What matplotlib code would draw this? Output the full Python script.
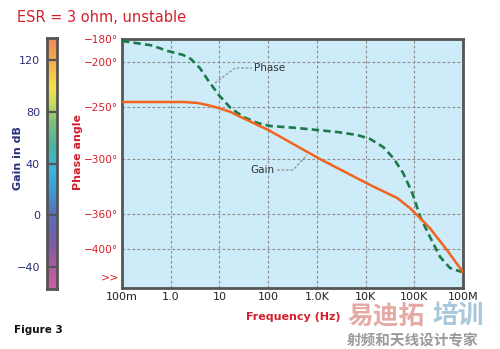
import numpy as np
import matplotlib
matplotlib.use("Agg")
import matplotlib.pyplot as plt
from matplotlib.colors import LinearSegmentedColormap

plt.rcParams['font.family'] = ['DejaVu Sans', 'Noto Sans CJK SC']

# ---- data ----
freq_ticks = [0.1, 1, 10, 100, 1e3, 1e4, 1e5, 1e6]
freq_labels = ["100m", "1.0", "10", "100", "1.0K", "10K", "100K", "100M"]

phase_ticks = [-180, -200, -250, -300, -360, -400]
phase_labels = ["\u2212180\u00b0", "\u2212200\u00b0", "\u2212250\u00b0", "\u2212300\u00b0",
                "\u2212360\u00b0", "\u2212400\u00b0"]
gain_ticks = [120, 80, 40, 0, -40]

phase_freq = [0.1, 0.4, 0.87, 1.8, 2.6, 4.0, 5.8, 9.7, 17, 31, 61, 112, 400, 1000,
              2600, 6700, 12500, 23000, 37000, 59000, 91000, 133000, 210000,
              340000, 540000, 950000]
phase_deg = [-181.7, -185.5, -190.4, -193.9, -197.4, -207, -220, -236.7, -251,
             -259.6, -265.4, -268.3, -270.2, -272.1, -274.0, -276.9, -280.8,
             -288.5, -299, -315.3, -337.1, -363.4, -386.3, -408.2, -419.5, -423.6]

gain_freq = [0.1, 1.0, 1.86, 3.5, 5.8, 9.7, 17, 30, 102, 1070, 11500, 45000, 82000,
             132000, 210000, 470000, 1e6]
gain_db = [87.9, 87.9, 87.9, 87.2, 85.5, 83.2, 80.1, 75.5, 66.0, 44.2, 23.9, 13.0,
           5.2, -2.6, -10.4, -27.5, -44.6]

# phase axis spacing (degrees -> drawn height)
scale_deg = [-440, -400, -360, -300, -250, -200, -180]
scale_pos = [0, 39, 74, 129, 181, 226, 249]

def fwd(v):
    return np.interp(v, scale_deg, scale_pos, left=None, right=None)

def inv(v):
    return np.interp(v, scale_pos, scale_deg)

red = "#d4202c"
navy = "#2a2f7a"
bg = "#cdebf9"

fig = plt.figure(figsize=(5.0, 3.49), dpi=100)
W, H = 500, 349

def rect(x0, y0, x1, y1):
    return [x0 / W, 1 - y1 / H, (x1 - x0) / W, (y1 - y0) / H]

def fx(px):
    # horizontal position inside the plot -> frequency
    return 0.1 * 10 ** ((px - 122) / 48.7)

ax = fig.add_axes(rect(122, 39, 463, 288))
ax.set_facecolor(bg)
ax.set_xscale("log")
ax.set_xlim(0.1, 1e6)
ax.set_yscale("function", functions=(fwd, inv))
ax.set_ylim(-440, -180)
ax.set_xticks(freq_ticks)
ax.set_xticklabels(freq_labels, fontsize=8, color="#222222")
ax.xaxis.set_minor_locator(matplotlib.ticker.NullLocator())
ax.set_yticks(phase_ticks)
ax.set_yticklabels(phase_labels, fontsize=7.6, color=red)
ax.yaxis.set_minor_locator(matplotlib.ticker.NullLocator())
ax.tick_params(length=0, pad=3)
ax.grid(True, color="#8a8a8a", linestyle=(0, (2.5, 2)), linewidth=0.8)
for s in ax.spines.values():
    s.set_color("#555555")
    s.set_linewidth(2)

ax.plot(phase_freq, phase_deg, color="#1b7a48", linewidth=1.9,
        linestyle=(0, (2.8, 1.6)), zorder=3)

axg = ax.twinx()
axg.set_ylim(-57, 137)
axg.set_yticks([])
for s in axg.spines.values():
    s.set_visible(False)
axg.plot(gain_freq, gain_db, color="#f2641e", linewidth=1.8, zorder=3)

# leader lines and labels
ax.plot([fx(215), fx(235), fx(252)],
        [inv(288 - 83), inv(288 - 68), inv(288 - 68)],
        color="#8a8a8a", linewidth=0.8, linestyle=(0, (2.5, 1.5)))
ax.text(fx(254), inv(288 - 68), "Phase", fontsize=7.5,
        va="center", ha="left", color="#333333")
ax.plot([fx(277), fx(293), fx(307)],
        [inv(288 - 170), inv(288 - 170), inv(288 - 155)],
        color="#8a8a8a", linewidth=0.8, linestyle=(0, (2.5, 1.5)))
ax.text(fx(274), inv(288 - 170), "Gain", fontsize=7.5,
        va="center", ha="right", color="#333333")

# gain color bar
cax = fig.add_axes(rect(47, 38, 57, 289))
cmap = LinearSegmentedColormap.from_list("gain", [
    (0.0, "#d060a0"), (0.09, "#b05aa0"), (0.18, "#7a5aa8"), (0.30, "#5a70bc"),
    (0.40, "#3aa0dc"), (0.48, "#38b8e0"), (0.56, "#45b4a8"), (0.66, "#78c07c"),
    (0.74, "#c8dc5c"), (0.80, "#f4e44a"), (0.90, "#f6b04a"), (1.0, "#f08858")])
grad = np.linspace(0, 1, 256).reshape(-1, 1)
cax.imshow(grad, aspect="auto", cmap=cmap, origin="lower", extent=[0, 1, -57, 137])
cax.set_xlim(0, 1)
cax.set_ylim(-57, 137)
cax.set_xticks([])
cax.set_yticks(gain_ticks)
cax.set_yticklabels([str(v).replace("-", "\u2212") for v in gain_ticks],
                    fontsize=8, color=navy)
cax.tick_params(length=0, pad=5)
for v in gain_ticks:
    cax.axhline(v, color="#555555", linewidth=1.6)
for s in cax.spines.values():
    s.set_color("#555555")
    s.set_linewidth(2)

# titles and labels
fig.text(17 / W, 1 - 18 / H, "ESR = 3 ohm, unstable", fontsize=10.5, color=red,
         ha="left", va="center")
fig.text(18 / W, 1 - 158 / H, "Gain in dB", fontsize=8, color=navy,
         fontweight="bold", rotation=90, ha="center", va="center")
fig.text(78 / W, 1 - 152 / H, "Phase angle", fontsize=8, color=red,
         fontweight="bold", rotation=90, ha="center", va="center")
fig.text(110 / W, 1 - 277 / H, ">>", fontsize=8, color=red, ha="center", va="center")
fig.text(293 / W, 1 - 317 / H, "Frequency (Hz)", fontsize=8, color=red,
         fontweight="bold", ha="center", va="center")
fig.text(14 / W, 1 - 330 / H, "Figure 3", fontsize=7.5, color="#111111",
         fontweight="bold", ha="left", va="center")

# watermark
fig.text(347 / W, 1 - 316 / H, "易迪拓", fontsize=18.5, color="#e6aaa4",
         fontweight="bold", ha="left", va="center", family=["Noto Sans CJK SC"])
fig.text(432 / W, 1 - 316 / H, "培训", fontsize=18.5, color="#a9c7da",
         fontweight="bold", ha="left", va="center", family=["Noto Sans CJK SC"])
fig.text(347 / W, 1 - 340 / H, "射频和天线设计专家", fontsize=10.5, color="#9a9a9a",
         fontweight="bold", ha="left", va="center", family=["Noto Sans CJK SC"])

fig.savefig("out.png", dpi=100)
